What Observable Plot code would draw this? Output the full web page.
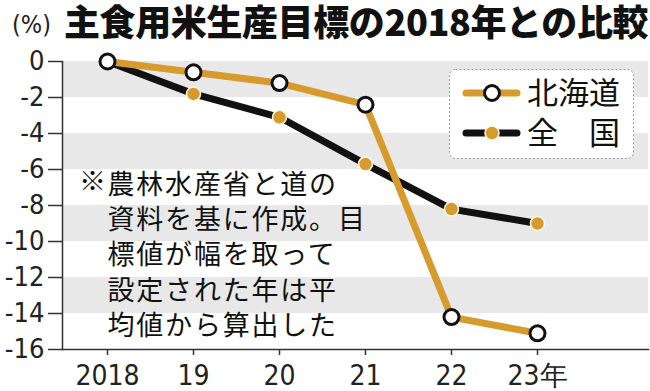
<!DOCTYPE html>
<html><head><meta charset="utf-8">
<script src="https://cdn.jsdelivr.net/npm/d3@7"></script>
<script src="https://cdn.jsdelivr.net/npm/@observablehq/plot@0.6"></script>
<style>
body{margin:0;background:#fff;}
#wrap{position:relative;width:650px;height:391px;overflow:hidden;background:#fff;}
#title{position:absolute;left:64px;top:2px;font-family:"Noto Sans CJK JP",sans-serif;font-weight:900;font-size:36px;line-height:36px;white-space:nowrap;color:#111;letter-spacing:-0.4px;}
#unit{position:absolute;left:12px;top:12px;font-family:"DejaVu Sans Condensed","Liberation Sans",sans-serif;font-size:25px;line-height:25px;color:#222;}
#legend{position:absolute;left:449px;top:69px;}
</style></head>
<body>
<div id="wrap">
<div id="chart"></div>
<div id="unit">(%)</div>
<div id="title">主食用米生産目標の2018年との比較</div>
<svg id="legend" width="186" height="91"></svg>
</div>
<script>
const years = [2018, 2019, 2020, 2021, 2022, 2023];
const xTickLabels = ["2018", "19", "20", "21", "22", "23年"];
const hokkaido = [0, -0.6, -1.2, -2.4, -14.2, -15.1];
const national = [0, -1.8, -3.1, -5.7, -8.2, -9.0];
const yTicks = [0, -2, -4, -6, -8, -10, -12, -14, -16];
const seriesNames = ["北海道", "全　国"];
const noteMark = "※";
const noteLines = ["農林水産省と道の", "資料を基に作成。目", "標値が幅を取って", "設定された年は平", "均値から算出した"];

const orange = "#d69a2d";
const numFont = '"DejaVu Sans Condensed","Liberation Sans Narrow","Roboto",sans-serif';
const jpFont = '"Noto Sans CJK JP",sans-serif';

const hk = years.map((y, i) => ({year: y, value: hokkaido[i]}));
const nt = years.map((y, i) => ({year: y, value: national[i]}));
const bands = [];
for (let i = 0; i + 1 < yTicks.length; i += 2) bands.push({y1: yTicks[i], y2: yTicks[i + 1]});

const plot = Plot.plot({
  width: 650,
  height: 391,
  marginTop: 61,
  marginBottom: 42,
  marginLeft: 62,
  marginRight: 2,
  style: {fontFamily: numFont, background: "transparent", color: "#222"},
  x: {type: "linear", domain: [2018, 2023], range: [107, 537]},
  y: {domain: [-16, 0]},
  marks: [
    Plot.rect(bands, {y1: "y1", y2: "y2", fill: "#e8e8e8"}),
    Plot.axisY({ticks: yTicks, tickSize: 14, tickPadding: 4, fontSize: 27, tickFormat: d => String(d), label: null, stroke: "#333", strokeWidth: 1.5}),
    Plot.axisX({ticks: years, tickSize: 6, tickPadding: 10, fontSize: 28, tickFormat: d => xTickLabels[years.indexOf(d)], label: null, stroke: "#333", strokeWidth: 1.5}),
    Plot.frame({anchor: "left", stroke: "#333", strokeWidth: 1.5}),
    Plot.frame({anchor: "bottom", stroke: "#333", strokeWidth: 1.5}),
    Plot.text([noteMark], {frameAnchor: "top-left", dx: 31, dy: 121, text: d => d, fontSize: 27, fontFamily: jpFont, textAnchor: "middle", lineAnchor: "middle", fill: "#111"}),
    Plot.text([noteLines.join("\n")], {frameAnchor: "top-left", dx: 45, dy: 191.5, text: d => d, fontSize: 27, lineHeight: 1.307, fontFamily: jpFont, textAnchor: "start", lineAnchor: "middle", fill: "#111"}),
    Plot.line(nt, {x: "year", y: "value", stroke: "#111", strokeWidth: 7, strokeLinejoin: "round"}),
    Plot.line(hk, {x: "year", y: "value", stroke: orange, strokeWidth: 7, strokeLinejoin: "round"}),
    Plot.dot(nt, {x: "year", y: "value", r: 7, fill: orange, stroke: "#fff8e8", strokeWidth: 1.5}),
    Plot.dot(hk, {x: "year", y: "value", r: 7.5, fill: "#fff", stroke: "#111", strokeWidth: 3})
  ]
});
document.getElementById("chart").appendChild(plot);
d3.select(plot).selectAll("g")
  .filter(function () { return (this.getAttribute("font-family") || "").includes("CJK"); })
  .style("letter-spacing", "1.8px");

// legend
const lg = d3.select("#legend");
lg.append("rect").attr("x", 0.5).attr("y", 0.5).attr("width", 184).attr("height", 89).attr("rx", 6)
  .attr("fill", "#fff").attr("stroke", "#999").attr("stroke-dasharray", "2,2");
const rows = [
  {name: seriesNames[0], line: orange, fill: "#fff", stroke: "#111", sw: 3, r: 7.5},
  {name: seriesNames[1], line: "#111", fill: orange, stroke: "#fff8e8", sw: 1.5, r: 7}
];
rows.forEach((d, i) => {
  const cy = 24 + i * 40;
  lg.append("line").attr("x1", 17).attr("x2", 68).attr("y1", cy).attr("y2", cy)
    .attr("stroke", d.line).attr("stroke-width", 7).attr("stroke-linecap", "round");
  lg.append("circle").attr("cx", 43).attr("cy", cy).attr("r", d.r).attr("fill", d.fill)
    .attr("stroke", d.stroke).attr("stroke-width", d.sw);
  lg.append("text").attr("x", 78).attr("y", cy).attr("dy", "0.36em").text(d.name)
    .attr("font-family", jpFont).attr("font-size", 31).attr("fill", "#111");
});
</script>
</body></html>
